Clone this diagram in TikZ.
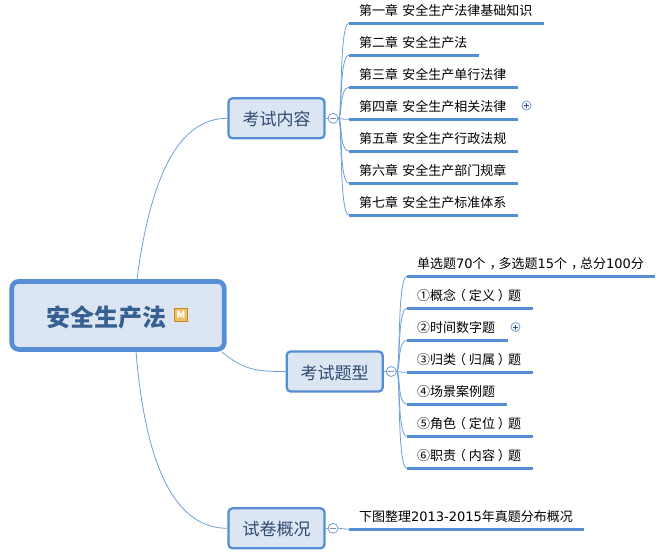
\documentclass[tikz,border=0pt]{standalone}
\usepackage{fontspec}
\setmainfont{Noto Sans CJK SC}
\newfontfamily\digitfont{DejaVu Sans}
\usepackage{tikz}
\usetikzlibrary{positioning}
\definecolor{line_blue}{HTML}{558ED5}
\definecolor{thin_blue}{HTML}{6F9FDB}
\definecolor{box_fill}{HTML}{DCE6F2}
\definecolor{box_text}{HTML}{2F4A73}
\definecolor{root_text}{HTML}{376092}
\definecolor{mark_fill}{HTML}{EDBE6A}
\definecolor{mark_edge}{HTML}{C98A1F}
% latin digits in a wider face, brackets and commas set in the middle of their cell
\newcommand{\dg}[1]{\mbox{\digitfont #1}}
\newcommand{\lb}{\kern-3pt（\kern3pt}
\newcommand{\rb}{\kern3pt）\kern-3pt}
\newcommand{\cm}{\kern4pt，\kern-4pt}
\tikzset{
root_topic/.style={rectangle, rounded corners=7pt, draw=line_blue, line width=4.7pt, fill=box_fill, text=root_text, font=\fontsize{24}{28}\bfseries\selectfont, minimum height=68pt, inner ysep=0pt, inner xsep=34.5pt, text width=143.5pt, text height=22pt, text depth=0.8pt, align=left},
main_topic/.style={rectangle, rounded corners=4pt, draw=line_blue, line width=2.3pt, fill=box_fill, text=box_text, font=\fontsize{17}{20}\selectfont, minimum width=96pt, minimum height=40pt, inner sep=0pt, text height=16pt, text depth=1pt},
sub_topic/.style={rectangle, text=black, font=\fontsize{13}{15}\selectfont, text width=#1-20pt, inner xsep=10pt, inner ysep=0pt, minimum height=26pt, text height=12pt, text depth=1pt, align=left, outer sep=0pt, anchor=south west},
collapse_btn/.style={circle, draw=thin_blue, fill=white, line width=0.8pt, minimum size=10pt, inner sep=0pt, path picture={\draw[box_text!60, line width=0.6pt] (-3pt,0) -- (3pt,0);}},
expand_btn/.style={circle, draw=thin_blue, fill=white, line width=0.8pt, minimum size=9pt, inner sep=0pt, path picture={\draw[box_text, line width=0.6pt] (-2.5pt,0) -- (2.5pt,0) (0,-2.5pt) -- (0,2.5pt);}},
marker_icon/.style={rectangle, draw=mark_edge, fill=mark_fill, text=white, line width=0.9pt, font=\fontsize{10}{10}\bfseries\selectfont, minimum size=13pt, inner sep=0pt},
branch_line/.style={thin_blue, line width=0.8pt},
under_line/.style={line_blue, line width=3pt}
}

\begin{document}
\begin{tikzpicture}[x=1pt,y=-1pt]
    \useasboundingbox (0,0) rectangle (664,556);
    \node[root_topic] (root) at (118,315.4) {安全生产法};
    \node[marker_icon] (root_mark) at (181,315) {M};

    \node[main_topic] (exam) at (276.5,118.3) {考试内容};
    \node[main_topic] (type) at (334.7,371.5) {考试题型};
    \node[main_topic] (paper) at (276.5,528.3) {试卷概况};
    \node[collapse_btn] (exam_btn) [right=2pt of exam] {};
    \node[collapse_btn] (type_btn) [right=2pt of type] {};
    \node[collapse_btn] (paper_btn) [right=2pt of paper] {};

    \node[sub_topic=195pt] (ch_1) at (349,23.3) {第一章 安全生产法律基础知识};
    \node[sub_topic=130pt] (ch_2) [below right=6pt and 0pt of ch_1.south west] {第二章 安全生产法};
    \node[sub_topic=169pt] (ch_3) [below right=6pt and 0pt of ch_2.south west] {第三章 安全生产单行法律};
    \node[sub_topic=169pt] (ch_4) [below right=6pt and 0pt of ch_3.south west] {第四章 安全生产相关法律};
    \node[sub_topic=169pt] (ch_5) [below right=6pt and 0pt of ch_4.south west] {第五章 安全生产行政法规};
    \node[sub_topic=169pt] (ch_6) [below right=6pt and 0pt of ch_5.south west] {第六章 安全生产部门规章};
    \node[sub_topic=169pt] (ch_7) [below right=6pt and 0pt of ch_6.south west] {第七章 安全生产标准体系};
    \node[expand_btn] (ch_4_btn) at (526.5,105.5) {};

    \node[sub_topic=248pt] (q_1) at (407,276.3) {单选题\dg{70}个\cm 多选题\dg{15}个\cm 总分\dg{100}分};
    \node[sub_topic=126pt] (q_2) [below right=6pt and 0pt of q_1.south west] {①概念\lb 定义\rb 题};
    \node[sub_topic=101pt] (q_3) [below right=6pt and 0pt of q_2.south west] {②时间数字题};
    \node[sub_topic=126pt] (q_4) [below right=6pt and 0pt of q_3.south west] {③归类\lb 归属\rb 题};
    \node[sub_topic=100pt] (q_5) [below right=6pt and 0pt of q_4.south west] {④场景案例题};
    \node[sub_topic=126pt] (q_6) [below right=6pt and 0pt of q_5.south west] {⑤角色\lb 定位\rb 题};
    \node[sub_topic=126pt] (q_7) [below right=6pt and 0pt of q_6.south west] {⑥职责\lb 内容\rb 题};
    \node[expand_btn] (q_3_btn) at (515.5,327) {};

    \node[sub_topic=235pt] (note) at (349,529.3) {下图整理\dg{2013-2015}年真题分布概况};

    \draw[branch_line] ([xshift=19pt]root.north) .. controls +(14,-105) and +(-48,0) .. (exam.west);
    \draw[branch_line] ([xshift=-5pt]root.south east) .. controls +(22,18) and +(-30,0) .. (type.west);
    \draw[branch_line] ([xshift=18pt]root.south) .. controls +(10,120) and +(-50,0) .. (paper.west);

    \draw[branch_line] (exam) -- (exam_btn) (type) -- (type_btn) (paper) -- (paper_btn);
    \foreach \i in {1,...,7} {
        \draw[branch_line] (exam_btn.east) .. controls +(4,0) and +(-10,0) .. (ch_\i.south west);
        \draw[under_line] (ch_\i.south west) -- (ch_\i.south east);
        \draw[branch_line] (type_btn.east) .. controls +(4,0) and +(-10,0) .. (q_\i.south west);
        \draw[under_line] (q_\i.south west) -- (q_\i.south east);
    }
    \draw[branch_line] (paper_btn.east) -- (note.south west);
    \draw[under_line] (note.south west) -- (note.south east);
\end{tikzpicture}
\end{document}
